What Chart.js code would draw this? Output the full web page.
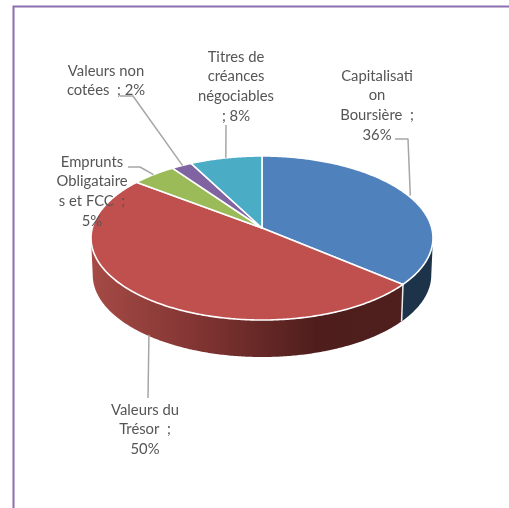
<!DOCTYPE html>
<html>
<head>
<meta charset="utf-8">
<style>
html,body{margin:0;padding:0;background:#fff;overflow:hidden}
canvas{display:block}
</style>
<script src="https://cdn.jsdelivr.net/npm/chart.js@4"></script>
</head>
<body>
<canvas id="c" width="509" height="508"></canvas>
<script>
const categories = ["Capitalisation Boursière","Valeurs du Trésor","Emprunts Obligataires et FCC","Valeurs non cotées","Titres de créances négociables"];
const shares = [36.3,49.5,4.8,2.2,7.7];
const labelLines = [
  ["Capitalisati","on","Boursière  ;"],
  ["Valeurs du","Trésor  ;"],
  ["Emprunts","Obligataire","s et FCC  ;"],
  ["Valeurs non","cotées  ;"],
  ["Titres de","créances","négociables","; "]
];
const topColors = ["#4F81BD","#C0504D","#9BBB59","#8064A2","#4BACC6"];
const wallColors = ["#1C3349","#6A2A28","#6B8238","#4E3C66","#2A7086"];
// label layout: centre x, first line centre y
const labelPos = [[377,76],[145,410],[92,162],[106,71],[236,57]];
const leaderTail = [[[395,139],[408,139]],[[148,398]],[[128,167],[140,167]],[[120,96],[133,96]],[[226,125]]];
const leaderDx = [2,3,0,1,0];

// perspective of the tilted disc
const CX=262, CY=228, RX=169.7, RY=80.8, K=0.122, DEPTH=37, WALL_SCALE=0.99;
const project=(a,r=1)=>{const u=Math.cos(a)*r,v=Math.sin(a)*r,w=1-K*v;return [CX+RX*u/w,CY+RY*v/w];};
const projectLow=(a)=>{const p=project(a);return [CX+(p[0]-CX)*WALL_SCALE,p[1]+DEPTH];};
const samples=(s,e)=>{const n=Math.max(2,Math.ceil((e-s)/0.01));return Array.from({length:n+1},(_,i)=>s+(e-s)*i/n);};

// Draw each library arc on the projected disc, using its own angles and colours
Chart.ArcElement.prototype.draw=function(ctx){
  const o=this.options;
  ctx.save();
  ctx.beginPath();
  ctx.moveTo(CX,CY);
  samples(this.startAngle,this.endAngle).forEach(a=>{const p=project(a);ctx.lineTo(p[0],p[1]);});
  ctx.closePath();
  ctx.fillStyle=o.backgroundColor;
  ctx.fill();
  ctx.strokeStyle="#FFFFFF";
  ctx.lineWidth=1.6;
  ctx.lineJoin="round";
  ctx.stroke();
  ctx.restore();
};

const pie3d={
  id:"pie3d",
  beforeDraw(chart){
    const c=chart.ctx;
    c.save();
    c.fillStyle="#fff";c.fillRect(0,0,509,508);
    c.strokeStyle="#8B6FB0";c.lineWidth=2;
    c.beginPath();c.moveTo(13.5,520);c.lineTo(13.5,6.5);c.lineTo(520,6.5);c.stroke();
    c.restore();
  },
  beforeDatasetsDraw(chart){
    const c=chart.ctx, arcs=chart.getDatasetMeta(0).data;
    const front0=Math.asin(K), front1=Math.PI-Math.asin(K);
    c.save();
    arcs.forEach((arc,i)=>{
      const s=Math.max(arc.startAngle,front0), e=Math.min(arc.endAngle,front1);
      if(e<=s) return;
      c.beginPath();
      const pts=samples(s,e);
      pts.forEach((a,j)=>{const p=project(a);j?c.lineTo(p[0],p[1]):c.moveTo(p[0],p[1]);});
      pts.slice().reverse().forEach(a=>{const p=projectLow(a);c.lineTo(p[0],p[1]);});
      c.closePath();
      if(i===1){
        const g=c.createLinearGradient(92,0,402,0);
        g.addColorStop(0,"#A54A45");
        g.addColorStop(0.35,"#803432");
        g.addColorStop(0.72,"#4F1E1C");
        g.addColorStop(1,"#4E1F1D");
        c.fillStyle=g;
      } else c.fillStyle=wallColors[i];
      c.fill();
    });
    // separator between the visible walls
    arcs.forEach(arc=>{
      const a=arc.endAngle;
      if(a>front0&&a<front1){
        const p=project(a),q=projectLow(a);
        c.strokeStyle="#E8ECEF";c.lineWidth=1.5;
        c.beginPath();c.moveTo(p[0],p[1]);c.lineTo(q[0],q[1]);c.stroke();
      }
    });
    c.restore();
  },
  afterDatasetsDraw(chart){
    const c=chart.ctx, arcs=chart.getDatasetMeta(0).data;
    c.save();
    c.strokeStyle="#A6A6A6";c.lineWidth=1.5;c.lineJoin="round";
    arcs.forEach((arc,i)=>{
      const mid=(arc.startAngle+arc.endAngle)/2;
      const onFront=Math.sin(mid)>K;
      const p=onFront?projectLow(mid):project(mid);
      c.beginPath();
      leaderTail[i].forEach((q,j)=>{j?c.lineTo(q[0],q[1]):c.moveTo(q[0],q[1]);});
      c.lineTo(p[0]+leaderDx[i],p[1]);
      c.stroke();
    });
    c.font='14.8px Lato, "Open Sans", sans-serif';
    c.fillStyle="#555555";
    c.textAlign="center";c.textBaseline="middle";
    categories.forEach((name,i)=>{
      const lines=labelLines[i].slice();
      const pct=Math.round(shares[i])+"%";
      const last=lines.length-1;
      if(i===3) lines[last]=lines[last]+" "+pct;
      else if(i===4) lines[last]=lines[last]+pct;
      else lines.push(pct);
      lines.forEach((t,j)=>c.fillText(t,labelPos[i][0],labelPos[i][1]+j*19.6));
    });
    c.restore();
  }
};

new Chart(document.getElementById("c"),{
  type:"pie",
  data:{labels:categories,datasets:[{data:shares,backgroundColor:topColors,borderColor:"#fff",borderWidth:1.6}]},
  options:{
    responsive:false,animation:false,
    plugins:{legend:{display:false},tooltip:{enabled:false}}
  },
  plugins:[pie3d]
});
</script>
</body>
</html>
